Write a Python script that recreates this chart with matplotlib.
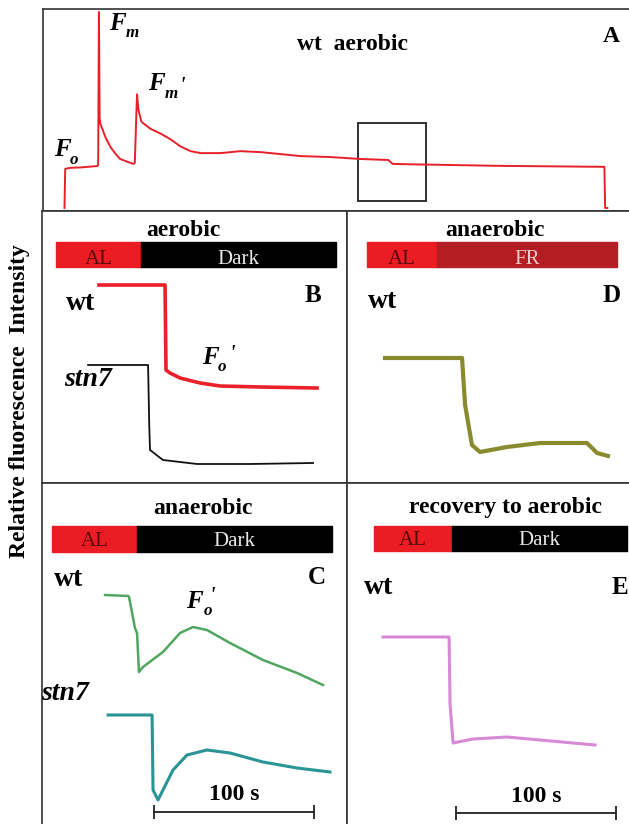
# chlorophyll fluorescence traces, panels A-E
import matplotlib
matplotlib.use("Agg")
import matplotlib.pyplot as plt
from matplotlib.patches import Rectangle

plt.rcParams['font.family'] = ['Liberation Serif', 'DejaVu Serif']

# --- data (time in s, fluorescence in a.u.) ---
# A: wt aerobic, whole run
a_t = [30, 31, 38, 52, 75, 76, 77, 78, 79, 86, 93, 100, 106, 113, 124, 126, 129, 131,
       135, 147, 161, 175, 188, 202, 216, 243, 270, 298, 325, 352, 393, 434, 472, 478,
       516, 625, 767, 768, 771]
a_f = [0.0, 0.20, 0.205, 0.207, 0.214, 0.22, 1.0, 0.46, 0.43, 0.36, 0.31, 0.275, 0.25,
       0.24, 0.225, 0.23, 0.58, 0.50, 0.44, 0.405, 0.38, 0.35, 0.315, 0.29, 0.28, 0.28,
       0.29, 0.285, 0.275, 0.265, 0.26, 0.25, 0.245, 0.225, 0.222, 0.215, 0.21, 0.0, 0.0]
zoom_window = (430, 523, 0.036, 0.434)

# B: aerobic, wt and stn7
b_wt_t = [35.6, 76.9, 77.5, 80, 86.3, 98.8, 111.3, 136.3, 171.9]
b_wt_f = [0.99, 0.99, 0.565, 0.55, 0.525, 0.50, 0.485, 0.48, 0.475]
b_st_t = [28.8, 66.3, 67.0, 67.5, 75.6, 96.9, 130, 169.4]
b_st_f = [0.59, 0.59, 0.30, 0.165, 0.115, 0.095, 0.095, 0.10]

# D: anaerobic, far red, wt
d_t = [23.8, 71.9, 73.8, 78.1, 83.1, 100, 120.6, 150, 156.3, 163.1]
d_f = [0.625, 0.625, 0.39, 0.19, 0.155, 0.18, 0.20, 0.20, 0.15, 0.135]

# C: anaerobic, dark, wt and stn7
c_wt_t = [39.4, 53.8, 54.4, 58.1, 59.4, 60.6, 63.1, 75.6, 86.3, 94.4, 103.1, 117.5,
          138.1, 159.4, 175.6]
c_wt_f = [1.145, 1.14, 1.135, 0.98, 0.955, 0.76, 0.785, 0.86, 0.955, 0.985, 0.97,
          0.905, 0.82, 0.755, 0.695]
c_st_t = [41.3, 68.8, 69.4, 72.5, 75.6, 81.9, 90.6, 103.1, 117.5, 138.1, 159.4, 180]
c_st_f = [0.545, 0.545, 0.17, 0.12, 0.17, 0.27, 0.345, 0.37, 0.355, 0.31, 0.28, 0.26]

# E: recovery to aerobic, wt
e_t = [22.5, 63.8, 64.4, 66.3, 78.8, 100, 120.6, 141.3, 155]
e_f = [0.935, 0.935, 0.60, 0.405, 0.425, 0.435, 0.42, 0.405, 0.395]

# light protocol bars: (start, end of AL, end)
b_bar = (8.8, 61.9, 183.8)
d_bar = (12.5, 56.3, 168.8)
c_bar = (6.3, 59.4, 181.3)
e_bar = (16.9, 65.6, 175.0)
scale_c = (70, 170)
scale_e = (68, 168)

W, H = 629, 824
fig = plt.figure(figsize=(W / 100, H / 100), dpi=100)


def panel(x0, y0, x1, y1, xs, ys, ybase):
    ax = fig.add_axes([x0 / W, 1 - y1 / H, (x1 - x0) / W, (y1 - y0) / H])
    ax.set_xlim(0, (x1 - x0) / xs)
    ax.set_ylim(ybase, ybase + (y1 - y0) / ys)
    ax.set_xticks([])
    ax.set_yticks([])
    for s in ax.spines.values():
        s.set_linewidth(1.2)
        s.set_color('#333333')
    return ax


def txt(x, y, s, size=17, **kw):
    kw.setdefault('weight', 'bold')
    fig.text(x / W, 1 - y / H, s, size=size, ha='center', va='center', **kw)


def fsub(x, y, sub, dx=12, prime=None, size=18):
    # bold italic F with subscript
    txt(x, y, 'F', size=size, style='italic')
    txt(x + dx, y + 10, sub, size=size * 0.68, style='italic')
    if prime:
        txt(prime[0], prime[1], "'", size=size * 0.8, style='italic')


def bar(ax, b, y0, h, c2='black', t2='Dark', tc2='#e8e8e8', ty=0.42):
    ax.broken_barh([(b[0], b[1] - b[0])], (y0, h), color='#ec1c24')
    ax.broken_barh([(b[1], b[2] - b[1])], (y0, h), color=c2)
    ax.text((b[0] + b[1]) / 2, y0 + h * ty, 'AL', ha='center', va='center',
            size=15, color='#5a0a0a')
    ax.text((b[1] + b[2]) / 2, y0 + h * ty, t2, ha='center', va='center',
            size=15, color=tc2)


def scalebar(ax, s, y):
    ax.plot(s, [y, y], color='#222222', lw=1.3, marker='|', ms=10, mew=1.3)


# A
axA = panel(42.5, 9, 634, 211, 1 / 1.365, 196, -0.0153)
axA.plot(a_t, a_f, color='#e8202a', lw=1.4)
zw = zoom_window
axA.add_patch(Rectangle((zw[0], zw[2]), zw[1] - zw[0], zw[3] - zw[2], fill=False,
                        ec='#222222', lw=1.3))
txt(352, 44, 'wt  aerobic')
txt(611, 37, 'A')
fsub(117, 23, 'm', dx=15)
fsub(156, 84, 'm', dx=15, prime=(182, 86))
fsub(62, 150, 'o', dx=12)

# B
axB = panel(42, 211, 347, 483, 1.6, 200, 0)
axB.plot(b_wt_t, b_wt_f, color='#e8202a', lw=2.6)
axB.plot(b_st_t, b_st_f, color='#111111', lw=1.3)
bar(axB, b_bar, 1.08, 0.125, ty=0.3)
txt(183, 231, 'aerobic')
txt(80, 303, 'wt', size=20)
txt(313, 296, 'B', size=18)
txt(88, 380, 'stn7', size=20, style='italic')
fsub(210, 357, 'o', prime=(232, 354))

# D
axD = panel(347, 211, 634, 483, 1.6, 200, 0)
axD.plot(d_t, d_f, color='#8a8a2e', lw=3.0)
bar(axD, d_bar, 1.08, 0.125, c2='#b21e23', t2='FR', tc2='#f4c8c8', ty=0.3)
txt(495, 231, 'anaerobic')
txt(383, 302, 'wt', size=20)
txt(612, 296, 'D', size=18)

# C
axC = panel(42, 483, 347, 826, 1.6, 200, -0.01)
axC.plot(c_wt_t, c_wt_f, color='#4fa65e', lw=1.8)
axC.plot(c_st_t, c_st_f, color='#2a9494', lw=2.2)
bar(axC, c_bar, 1.36, 0.13)
scalebar(axC, scale_c, 0.06)
txt(203, 508, 'anaerobic')
txt(68, 580, 'wt', size=20)
txt(317, 578, 'C', size=18)
txt(65, 693, 'stn7', size=20, style='italic')
fsub(194, 601, 'o', dx=14, prime=(212, 596))
txt(234, 795, '100 s')

# E
axE = panel(347, 483, 634, 826, 1.6, 200, -0.01)
axE.plot(e_t, e_f, color='#d68ad6', lw=2.2)
bar(axE, e_bar, 1.365, 0.125)
scalebar(axE, scale_e, 0.055)
txt(505, 508, 'recovery to aerobic')
txt(378, 588, 'wt', size=20)
txt(620, 588, 'E', size=18)
txt(536, 796, '100 s')

txt(20, 401, 'Relative fluorescence  Intensity', rotation=90)

fig.savefig('out.png', dpi=100)
